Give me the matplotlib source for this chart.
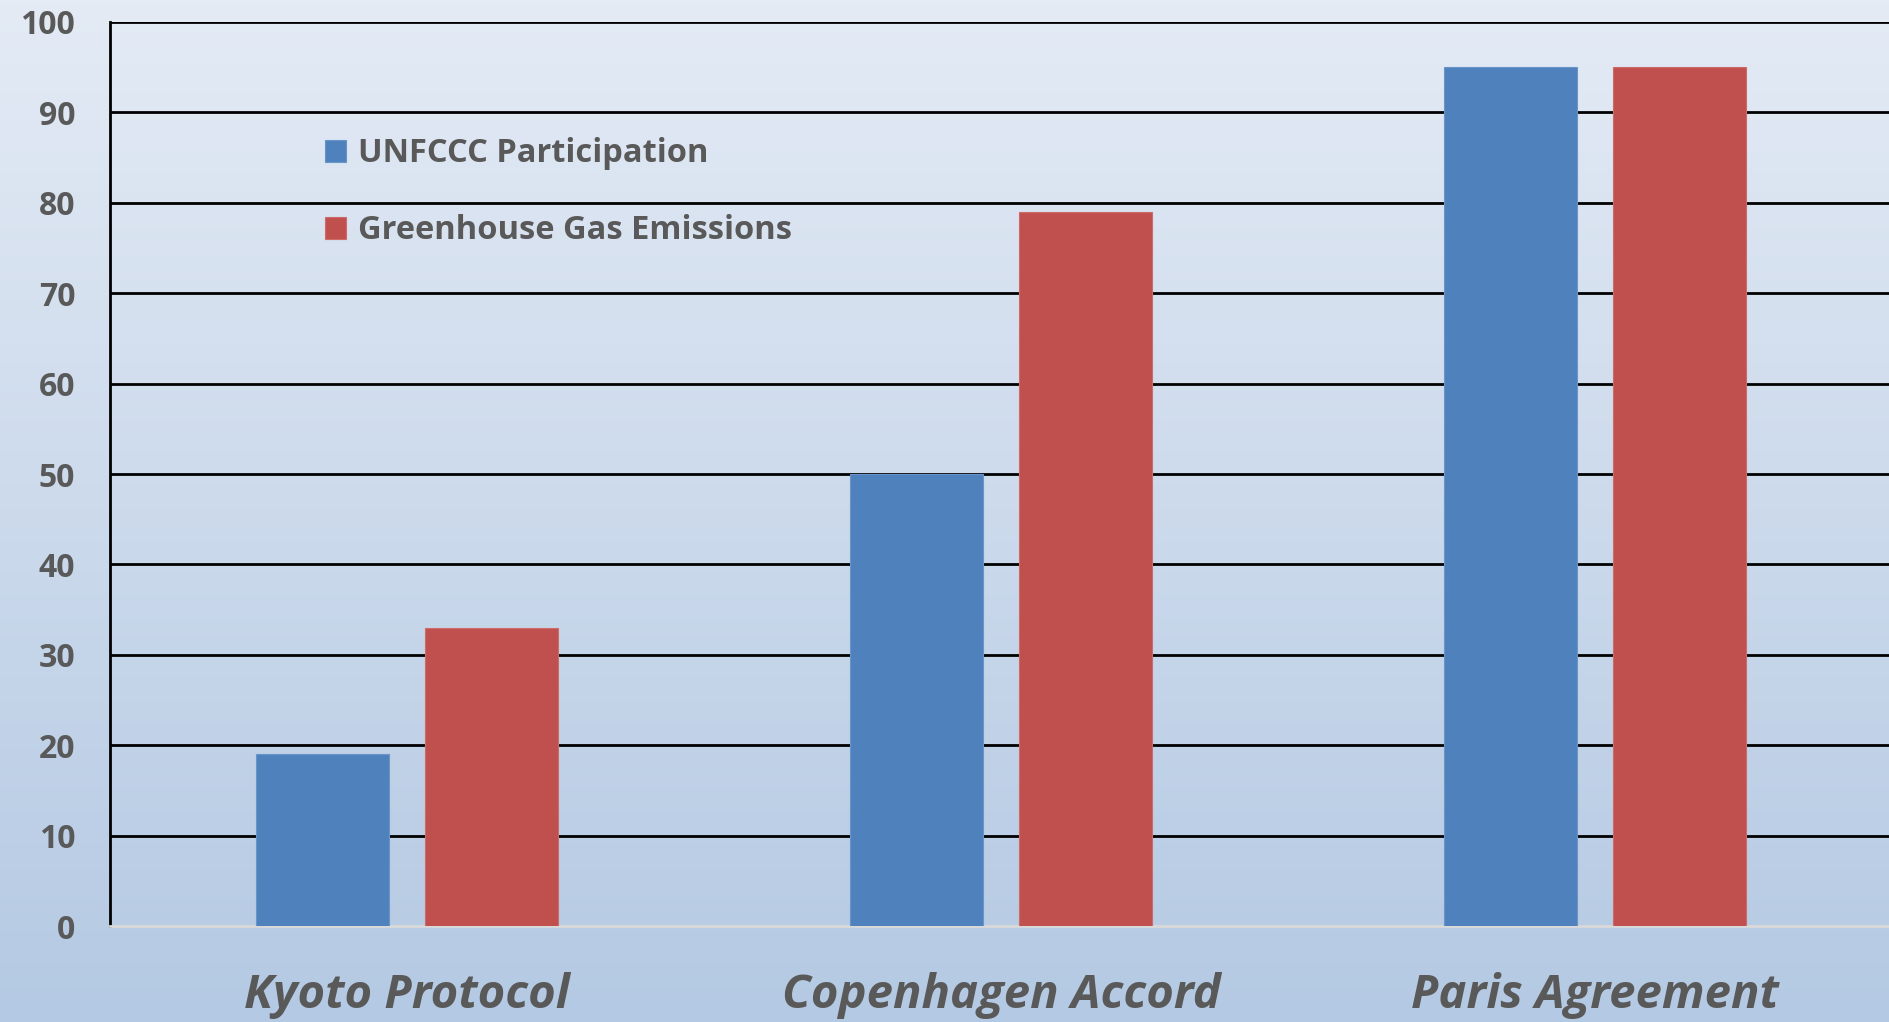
import numpy as np
import matplotlib.pyplot as plt

treaties = ['Kyoto Protocol', 'Copenhagen Accord', 'Paris Agreement']
participation = [19, 50, 95]
emissions = [33, 79, 95]
series_names = ['UNFCCC Participation', 'Greenhouse Gas Emissions']
yticks = [0, 10, 20, 30, 40, 50, 60, 70, 80, 90, 100]

blue = '#4f81bd'
red = '#c0504d'
txt = '#595959'

plt.rcParams['font.family'] = ['Open Sans', 'DejaVu Sans']

fig = plt.figure(figsize=(18.9, 10.22), dpi=100)

# light-to-darker blue backdrop over the whole figure
bg = fig.add_axes([0, 0, 1, 1], zorder=-10)
top = np.array([228, 235, 245]) / 255
bot = np.array([180, 201, 227]) / 255
t = np.linspace(0, 1, 256)[:, None]
grad = top[None, :] * (1 - t) + bot[None, :] * t
bg.imshow(grad[:, None, :], aspect='auto', extent=[0, 1, 0, 1])
bg.axis('off')

ax = fig.add_axes([110 / 1890, 96 / 1022, 1782 / 1890, 904 / 1022])
ax.patch.set_alpha(0)

x = np.arange(len(treaties))
w = 0.223
off = 0.142
ax.bar(x - off, participation, w, color=blue, edgecolor='#6a95c9', linewidth=0.8,
       label=series_names[0], zorder=3)
ax.bar(x + off, emissions, w, color=red, edgecolor='#cc6b68', linewidth=0.8,
       label=series_names[1], zorder=3)

ax.set_xlim(-0.5, 2.5)
ax.set_ylim(0, 100)
ax.set_yticks(yticks)
ax.set_yticklabels([str(v) for v in yticks], fontsize=23, fontweight='bold', color=txt)
ax.tick_params(axis='y', length=0, pad=25)
ax.set_xticks(x)
ax.set_xticklabels(treaties, fontsize=34, fontweight='bold', style='italic', color=txt)
ax.tick_params(axis='x', length=0, pad=33)

for v in yticks[1:]:
    ax.axhline(v, color='black', lw=2, zorder=2)

for s in ['top', 'right']:
    ax.spines[s].set_visible(False)
ax.spines['left'].set_color('black')
ax.spines['left'].set_linewidth(2)
ax.spines['bottom'].set_color('#d9d9d9')
ax.spines['bottom'].set_linewidth(2)

leg = ax.legend(loc='upper left', bbox_to_anchor=(0.104, 0.905), frameon=False,
                prop={'size': 23.5, 'weight': 'bold'}, handlelength=0.66, handleheight=0.66,
                handletextpad=0.35, labelspacing=1.35)
for tx in leg.get_texts():
    tx.set_color(txt)

fig.savefig('out.png', dpi=100)
